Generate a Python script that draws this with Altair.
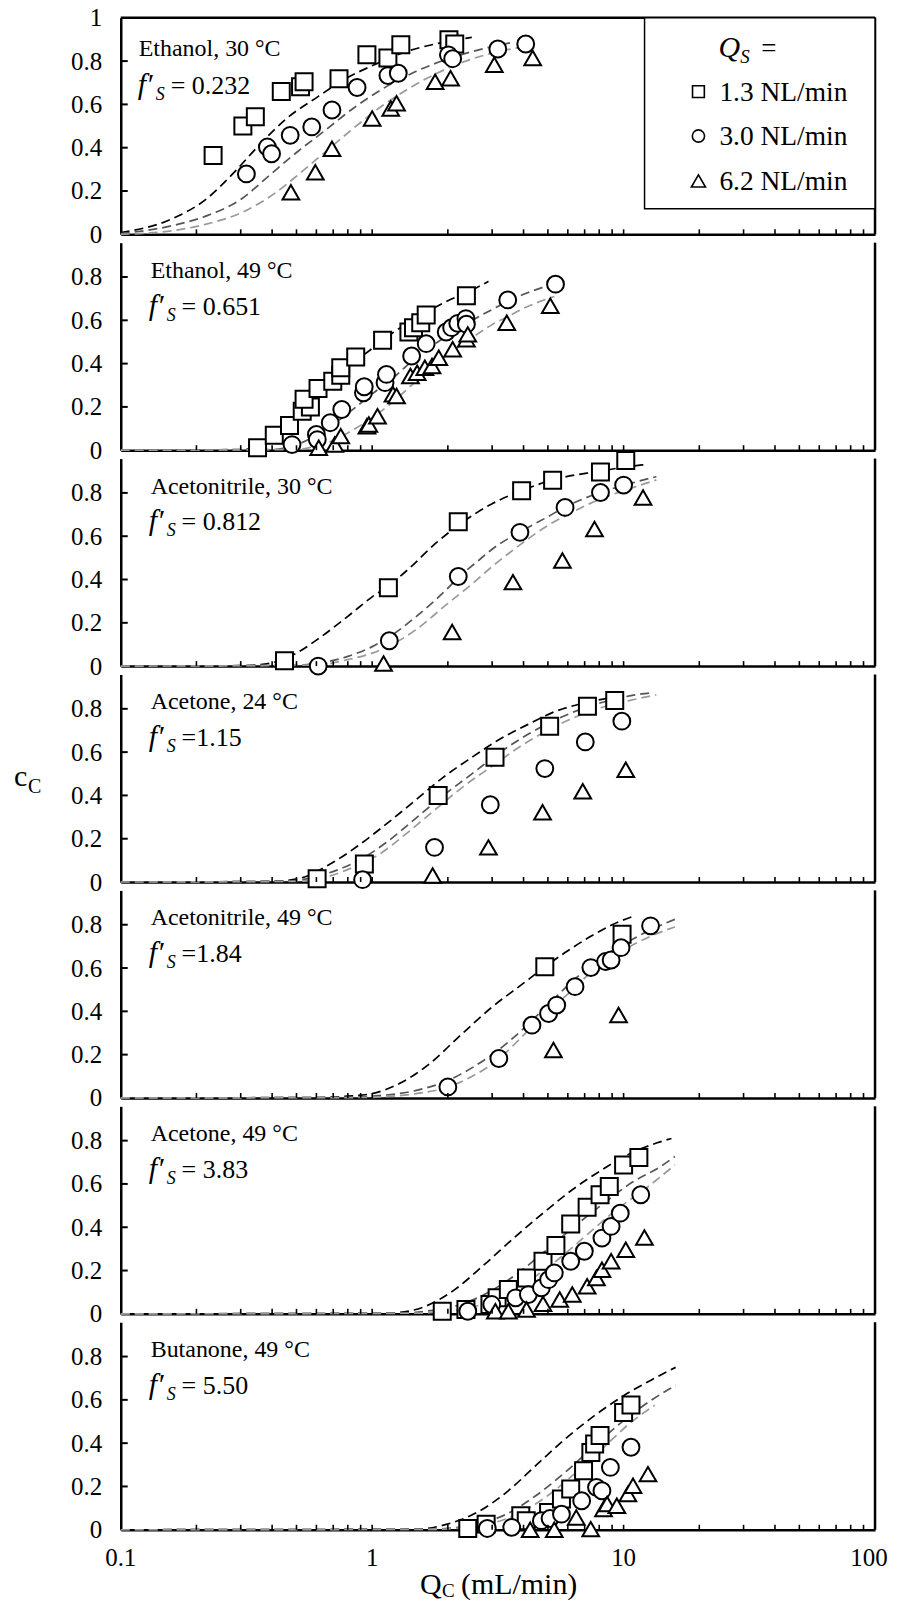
import altair as alt
import pandas as pd

# ---------------- text / tick data ----------------
SERIES = ["1.3 NL/min", "3.0 NL/min", "6.2 NL/min"]
PANEL_NAMES = ["Ethanol, 30 \u00b0C", "Ethanol, 49 \u00b0C", "Acetonitrile, 30 \u00b0C",
               "Acetone, 24 \u00b0C", "Acetonitrile, 49 \u00b0C", "Acetone, 49 \u00b0C",
               "Butanone, 49 \u00b0C"]
F_VALUES = ["= 0.232", "= 0.651", "= 0.812", "=1.15", "=1.84", "= 3.83", "= 5.50"]
X_LABELS = [0.1, 1, 10, 100]
X_MINOR = [0.2, 0.3, 0.4, 0.5, 0.6, 0.7, 0.8, 0.9, 1, 2, 3, 4, 5, 6, 7, 8, 9, 10,
           20, 30, 40, 50, 60, 70, 80, 90]
Y_TICKS = [0, 0.2, 0.4, 0.6, 0.8]
Y_TICKS_TOP = [0, 0.2, 0.4, 0.6, 0.8, 1]
Y_MINOR = [0.2, 0.4, 0.6, 0.8]

# ---------------- Panel 1: Ethanol 30 C ----------------
P1_SQ = [(0.233, 0.364), (0.306, 0.50), (0.343, 0.543), (0.435, 0.659), (0.519, 0.682),
         (0.536, 0.705), (0.738, 0.718), (0.953, 0.829), (1.155, 0.814), (1.30, 0.876),
         (2.02, 0.899), (2.13, 0.879)]
P1_CI = [(0.316, 0.279), (0.383, 0.403), (0.398, 0.372), (0.472, 0.457), (0.575, 0.496),
         (0.692, 0.574), (0.871, 0.678), (1.155, 0.733), (1.27, 0.744), (2.01, 0.829),
         (2.09, 0.811), (3.16, 0.856), (4.08, 0.879)]
P1_TR = [(0.475, 0.194), (0.594, 0.287), (0.692, 0.395), (1.0, 0.535), (1.185, 0.581),
         (1.25, 0.605), (1.78, 0.705), (2.05, 0.721), (3.06, 0.783), (4.35, 0.814)]
P1_K = [(0.1, 0.008), (0.159, 0.07), (0.219, 0.163), (0.283, 0.287), (0.354, 0.41),
        (0.457, 0.535), (0.609, 0.636), (0.787, 0.72), (1.02, 0.783), (1.31, 0.837),
        (1.8, 0.88), (2.49, 0.91)]
P1_D = [(0.1, 0.003), (0.159, 0.039), (0.219, 0.085), (0.302, 0.163), (0.389, 0.271),
        (0.503, 0.38), (0.65, 0.48), (0.839, 0.581), (1.083, 0.667), (1.49, 0.752),
        (2.05, 0.814), (2.83, 0.86), (3.65, 0.887)]
P1_L = [(0.1, 0.0), (0.159, 0.016), (0.219, 0.047), (0.302, 0.1), (0.415, 0.194),
        (0.503, 0.271), (0.65, 0.38), (0.839, 0.488), (1.083, 0.589), (1.4, 0.674),
        (1.81, 0.744), (2.33, 0.798), (3.01, 0.837), (3.89, 0.864)]

# ---------------- Panel 2: Ethanol 49 C ----------------
P2_SQ = [(0.35, 0.011), (0.408, 0.069), (0.469, 0.114), (0.527, 0.18), (0.568, 0.199),
         (0.536, 0.235), (0.609, 0.285), (0.697, 0.319), (0.75, 0.346), (0.75, 0.381),
         (0.86, 0.43), (1.10, 0.508), (1.40, 0.546), (1.46, 0.566), (1.56, 0.589),
         (1.64, 0.625), (2.37, 0.713)]
P2_CI = [(0.48, 0.026), (0.60, 0.073), (0.605, 0.049), (0.681, 0.127), (0.757, 0.188),
         (0.923, 0.265), (0.93, 0.293), (1.125, 0.312), (1.14, 0.35), (1.435, 0.435),
         (1.64, 0.492), (1.97, 0.546), (2.07, 0.566), (2.19, 0.586), (2.36, 0.608),
         (2.37, 0.582), (3.46, 0.694), (5.36, 0.767)]
P2_TR = [(0.613, 0.011), (0.71, 0.026), (0.75, 0.065), (0.953, 0.111), (0.97, 0.119),
         (1.05, 0.157), (1.21, 0.258), (1.25, 0.25), (1.42, 0.343), (1.51, 0.358),
         (1.62, 0.381), (1.73, 0.389), (1.84, 0.427), (2.09, 0.466), (2.37, 0.512),
         (2.4, 0.535), (3.43, 0.589), (5.11, 0.667)]
P2_K = [(0.1, 0.0), (0.3, 0.003), (0.35, 0.015), (0.4, 0.045), (0.45, 0.09), (0.5, 0.14),
        (0.6, 0.23), (0.7, 0.31), (0.8, 0.38), (1.0, 0.47), (1.2, 0.54), (1.5, 0.61),
        (2.0, 0.69), (2.5, 0.74), (2.9, 0.78)]
P2_D = [(0.1, 0.0), (0.4, 0.003), (0.5, 0.025), (0.6, 0.07), (0.7, 0.12), (0.8, 0.17),
        (1.0, 0.26), (1.2, 0.33), (1.5, 0.43), (2.0, 0.53), (2.5, 0.6), (3.0, 0.65),
        (3.5, 0.69), (4.0, 0.72), (5.0, 0.76), (5.3, 0.77)]
P2_L = [(0.1, 0.0), (0.5, 0.003), (0.6, 0.02), (0.7, 0.045), (0.8, 0.08), (1.0, 0.15),
        (1.2, 0.22), (1.5, 0.32), (2.0, 0.44), (2.5, 0.52), (3.0, 0.58), (3.5, 0.62),
        (4.0, 0.655), (5.0, 0.70), (5.3, 0.71)]

# ---------------- Panel 3: Acetonitrile 30 C ----------------
P3_SQ = [(0.448, 0.025), (1.16, 0.362), (2.2, 0.667), (3.93, 0.81), (5.22, 0.859),
         (8.09, 0.897), (10.2, 0.95)]
P3_CI = [(0.61, 0.0), (1.17, 0.117), (2.2, 0.414), (3.87, 0.618), (5.85, 0.733),
         (8.09, 0.802), (10.0, 0.836)]
P3_TR = [(1.11, 0.012), (2.08, 0.158), (3.63, 0.388), (5.71, 0.488), (7.66, 0.633),
         (11.95, 0.779)]
P3_K = [(0.1, 0.0), (0.3, 0.002), (0.4, 0.015), (0.5, 0.06), (0.6, 0.12), (0.8, 0.23),
        (1.0, 0.32), (1.16, 0.37), (1.4, 0.45), (1.8, 0.57), (2.2, 0.65), (3.0, 0.75),
        (3.93, 0.81), (5.22, 0.86), (8.0, 0.90), (11.0, 0.925), (12.0, 0.93)]
P3_D = [(0.1, 0.0), (0.5, 0.004), (0.6, 0.012), (0.8, 0.045), (1.0, 0.09), (1.17, 0.135),
        (1.5, 0.23), (2.0, 0.36), (2.2, 0.41), (2.6, 0.48), (3.0, 0.54), (3.87, 0.62),
        (5.0, 0.69), (5.85, 0.735), (8.0, 0.80), (10.0, 0.835), (13.5, 0.875)]
P3_L = [(0.1, 0.0), (0.6, 0.005), (0.8, 0.03), (1.0, 0.06), (1.2, 0.1), (1.5, 0.17),
        (2.0, 0.29), (2.5, 0.38), (3.0, 0.46), (3.87, 0.56), (5.0, 0.65), (6.0, 0.7),
        (8.0, 0.77), (10.0, 0.81), (13.5, 0.86)]

# ---------------- Panel 4: Acetone 24 C ----------------
P4_SQ = [(0.604, 0.015), (0.931, 0.083), (1.83, 0.4), (3.08, 0.576), (5.08, 0.72),
         (7.18, 0.812), (9.22, 0.838)]
P4_CI = [(0.916, 0.011), (1.77, 0.16), (2.95, 0.357), (4.86, 0.524), (7.04, 0.647),
         (9.84, 0.743)]
P4_TR = [(1.74, 0.03), (2.9, 0.16), (4.76, 0.322), (6.88, 0.419), (10.2, 0.519)]
P4_K = [(0.1, 0.0), (0.4, 0.003), (0.519, 0.018), (0.673, 0.08), (0.873, 0.165),
        (1.13, 0.265), (1.47, 0.373), (1.9, 0.48), (2.47, 0.573), (3.2, 0.658),
        (4.15, 0.727), (5.38, 0.789), (6.99, 0.827), (8.77, 0.85)]
P4_D = [(0.1, 0.0), (0.45, 0.003), (0.519, 0.01), (0.673, 0.042), (0.873, 0.096),
        (1.13, 0.18), (1.47, 0.288), (1.9, 0.396), (2.47, 0.496), (3.2, 0.596),
        (4.15, 0.681), (5.38, 0.75), (6.99, 0.804), (9.07, 0.843), (11.8, 0.869),
        (13.2, 0.875)]
P4_L = [(0.1, 0.0), (0.5, 0.003), (0.59, 0.01), (0.817, 0.062), (1.06, 0.126),
        (1.375, 0.226), (1.78, 0.334), (2.31, 0.442), (3.0, 0.535), (3.89, 0.627),
        (5.05, 0.704), (6.55, 0.766), (8.5, 0.812), (11.0, 0.843), (13.5, 0.865)]

# ---------------- Panel 5: Acetonitrile 49 C ----------------
P5_SQ = [(4.86, 0.606), (9.86, 0.756)]
P5_CI = [(2.0, 0.051), (3.19, 0.182), (4.32, 0.336), (5.03, 0.39), (5.42, 0.429),
         (6.41, 0.514), (7.41, 0.602), (8.48, 0.63), (8.92, 0.637), (9.77, 0.694),
         (12.8, 0.795)]
P5_TR = [(5.26, 0.221), (9.55, 0.383)]
P5_K = [(0.1, 0.0), (0.6, 0.002), (0.8, 0.008), (1.0, 0.02), (1.3, 0.07), (1.7, 0.16),
        (2.2, 0.28), (3.0, 0.42), (4.0, 0.53), (4.86, 0.605), (6.0, 0.68), (7.5, 0.75),
        (9.0, 0.80), (11.0, 0.84)]
P5_D = [(0.1, 0.0), (0.8, 0.002), (1.0, 0.008), (1.5, 0.035), (2.0, 0.08), (2.5, 0.14),
        (3.0, 0.2), (4.0, 0.32), (5.0, 0.43), (6.41, 0.55), (8.0, 0.64), (10.0, 0.71),
        (13.0, 0.78), (16.4, 0.83)]
P5_L = [(0.1, 0.0), (0.9, 0.002), (1.2, 0.008), (1.5, 0.02), (2.0, 0.05), (2.5, 0.1),
        (3.19, 0.18), (4.0, 0.29), (5.0, 0.4), (6.41, 0.51), (7.41, 0.58), (9.0, 0.65),
        (11.0, 0.71), (13.0, 0.75), (16.0, 0.79)]

# ---------------- Panel 6: Acetone 49 C ----------------
P6_SQ = [(1.9, 0.012), (2.36, 0.02), (2.94, 0.043), (3.14, 0.074), (3.48, 0.112),
         (4.11, 0.166), (4.78, 0.243), (5.38, 0.316), (6.16, 0.415), (7.16, 0.492),
         (8.06, 0.55), (8.77, 0.588), (10.0, 0.688), (11.5, 0.722)]
P6_CI = [(2.4, 0.012), (2.99, 0.043), (3.72, 0.074), (4.18, 0.089), (4.71, 0.12),
         (5.03, 0.158), (5.3, 0.189), (6.16, 0.243), (6.98, 0.289), (8.2, 0.35),
         (8.92, 0.404), (9.7, 0.465), (11.7, 0.55)]
P6_TR = [(3.09, 0.012), (3.48, 0.012), (4.11, 0.02), (4.78, 0.046), (5.57, 0.066),
         (6.25, 0.089), (7.16, 0.127), (7.8, 0.166), (8.2, 0.204), (8.92, 0.243),
         (10.2, 0.296), (12.1, 0.353)]
P6_K = [(0.1, 0.0), (1.0, 0.002), (1.24, 0.005), (1.63, 0.035), (2.13, 0.112),
        (2.79, 0.227), (3.66, 0.35), (4.78, 0.465), (6.25, 0.573), (8.2, 0.665),
        (10.7, 0.742), (13.6, 0.79), (15.5, 0.81)]
P6_D = [(0.1, 0.0), (1.3, 0.003), (1.63, 0.012), (2.13, 0.035), (2.79, 0.089),
        (3.66, 0.174), (4.78, 0.281), (6.25, 0.396), (8.2, 0.504), (10.7, 0.604),
        (14.0, 0.68), (16.0, 0.727)]
P6_L = [(0.1, 0.0), (1.5, 0.003), (1.86, 0.009), (2.44, 0.028), (3.19, 0.074),
        (4.18, 0.151), (5.47, 0.25), (7.16, 0.366), (9.37, 0.481), (12.3, 0.581),
        (16.0, 0.688)]

# ---------------- Panel 7: Butanone 49 C ----------------
P7_SQ = [(2.4, 0.006), (2.84, 0.026), (3.9, 0.065), (4.1, 0.042), (5.03, 0.08),
         (5.66, 0.142), (6.16, 0.188), (6.93, 0.273), (7.41, 0.357), (7.67, 0.396),
         (8.06, 0.435), (10.0, 0.542), (10.7, 0.576)]
P7_CI = [(2.87, 0.006), (3.59, 0.011), (4.71, 0.042), (5.1, 0.052), (5.66, 0.072),
         (6.81, 0.134), (7.8, 0.196), (8.2, 0.18), (8.86, 0.288), (10.7, 0.381)]
P7_TR = [(4.25, 0.0), (5.3, 0.0), (6.48, 0.057), (7.4, 0.003), (8.32, 0.096),
         (8.6, 0.119), (9.4, 0.111), (10.4, 0.165), (10.9, 0.203), (12.5, 0.257)]
P7_K = [(0.1, 0.0), (1.2, 0.002), (1.52, 0.003), (1.99, 0.026), (2.61, 0.08),
        (3.42, 0.173), (4.47, 0.296), (5.85, 0.419), (7.66, 0.527), (10.0, 0.619),
        (13.1, 0.696), (16.1, 0.75)]
P7_D = [(0.1, 0.0), (1.6, 0.002), (1.99, 0.006), (2.61, 0.026), (3.42, 0.072),
        (4.47, 0.157), (5.85, 0.265), (7.66, 0.388), (10.0, 0.504), (13.1, 0.604),
        (16.1, 0.666)]
P7_L = [(0.1, 0.0), (1.8, 0.002), (2.13, 0.006), (2.79, 0.022), (3.66, 0.065),
        (4.78, 0.142), (6.25, 0.25), (8.2, 0.373), (10.7, 0.496), (13.3, 0.575)]

PANEL_DATA = [
    (P1_SQ, P1_CI, P1_TR, P1_K, P1_D, P1_L),
    (P2_SQ, P2_CI, P2_TR, P2_K, P2_D, P2_L),
    (P3_SQ, P3_CI, P3_TR, P3_K, P3_D, P3_L),
    (P4_SQ, P4_CI, P4_TR, P4_K, P4_D, P4_L),
    (P5_SQ, P5_CI, P5_TR, P5_K, P5_D, P5_L),
    (P6_SQ, P6_CI, P6_TR, P6_K, P6_D, P6_L),
    (P7_SQ, P7_CI, P7_TR, P7_K, P7_D, P7_L),
]

# ---------------- styling ----------------
FONT = "Liberation Serif"
W, H1, H = 756, 217, 208
CURVE_COLORS = ["#000000", "#555555", "#9a9a9a"]
SHAPES = ["square", "circle", "triangle-up"]
SIZES = [290, 280, 380]
TICK_FS = 25


def frame(groups):
    rows = []
    for s, arr in zip(SERIES, groups):
        for q, c in arr:
            rows.append({"q": q, "c": c, "s": s})
    return pd.DataFrame(rows)


def txt(text, x, y, size, italic=False, align="left"):
    return alt.Chart(pd.DataFrame({"t": [text]})).mark_text(
        font=FONT, fontSize=size, fontStyle="italic" if italic else "normal",
        align=align, baseline="alphabetic", color="black"
    ).encode(x=alt.value(x), y=alt.value(y), text="t:N")


def panel(i):
    sq, ci, tr, k, d, l = PANEL_DATA[i]
    first, last = i == 0, i == 6
    h = H1 if first else H
    ytop = 1.0 if first else H / H1
    xs = alt.Scale(type="log", domain=[0.1, 100], nice=False)
    ys = alt.Scale(domain=[0, ytop], nice=False, zero=False)
    xaxis = alt.Axis(values=X_LABELS, labels=False, ticks=False, tickSize=0,
                     grid=False, domainColor="black", domainWidth=2.5, title=None)
    yaxis = alt.Axis(values=Y_TICKS_TOP if first else Y_TICKS, format="~g",
                     labelFont=FONT, labelFontSize=TICK_FS, labelColor="black",
                     labelPadding=19, labelOverlap=False, ticks=False, tickSize=0,
                     grid=False, domainColor="black", domainWidth=2.5, title=None)

    def X(f):
        return alt.X(f, scale=xs, axis=xaxis)

    def Y(f):
        return alt.Y(f, scale=ys, axis=yaxis)

    curves = alt.Chart(frame((k, d, l))).mark_line(
        strokeDash=[9, 5], strokeWidth=1.7, interpolate="monotone"
    ).encode(
        x=X("q:Q"), y=Y("c:Q"),
        color=alt.Color("s:N", scale=alt.Scale(domain=SERIES, range=CURVE_COLORS), legend=None),
        detail="s:N",
    )
    points = alt.Chart(frame((sq, ci, tr))).mark_point(
        filled=True, fill="white", stroke="black", strokeWidth=2, opacity=1
    ).encode(
        x=X("q:Q"), y=Y("c:Q"),
        shape=alt.Shape("s:N", scale=alt.Scale(domain=SERIES, range=SHAPES), legend=None),
        size=alt.Size("s:N", scale=alt.Scale(domain=SERIES, range=SIZES), legend=None),
    )
    xt = alt.Chart(pd.DataFrame({"v": X_MINOR})).mark_rule(
        color="black", strokeWidth=1.6
    ).encode(x=X("v:Q"), y=alt.value(h), y2=alt.value(h - 5))
    yt = alt.Chart(pd.DataFrame({"v": Y_MINOR})).mark_rule(
        color="black", strokeWidth=2
    ).encode(y=Y("v:Q"), x=alt.value(0), x2=alt.value(7))
    right = alt.Chart(pd.DataFrame({"v": [0]})).mark_rule(
        color="black", strokeWidth=2.5
    ).encode(x=alt.value(W), y=alt.value(0), y2=alt.value(h))

    layers = [curves, points, xt, yt, right]

    if first:
        lx, lb, fx, fb = 18, 38, 17, 76
    else:
        lx, lb, fx, fb = 30, 35, 28, 72
    layers += [
        txt(PANEL_NAMES[i], lx, lb, 24),
        txt("f\u2032", fx, fb, 30, italic=True),
        txt("S", fx + 18, fb + 6, 18, italic=True),
        txt(F_VALUES[i], fx + 33, fb, 26),
    ]

    if first:
        top = alt.Chart(pd.DataFrame({"v": [0]})).mark_rule(
            color="black", strokeWidth=2.5
        ).encode(x=alt.value(0), x2=alt.value(W), y=alt.value(0))
        box = alt.Chart(pd.DataFrame({"v": [0]})).mark_rect(
            fill="white", stroke="black", strokeWidth=1.5
        ).encode(x=alt.value(525), x2=alt.value(W), y=alt.value(0), y2=alt.value(191.5))
        layers += [top, box,
                   txt("Q", 599, 39, 30, italic=True),
                   txt("S", 621, 45, 19, italic=True),
                   txt("=", 642, 39, 27)]
        row_y = [74, 118.5, 163.5]
        leg_sizes = [140, 150, 200]
        for j, s in enumerate(SERIES):
            sym = alt.Chart(pd.DataFrame({"s": [s]})).mark_point(
                shape=SHAPES[j], size=leg_sizes[j], filled=True, fill="white",
                stroke="black", strokeWidth=1.6, opacity=1
            ).encode(x=alt.value(579), y=alt.value(row_y[j]))
            layers += [sym, txt(s, 600, row_y[j] + 9, 27.5)]

    if i == 3:
        layers += [txt("c", -107, 111.4, 30), txt("C", -93, 118.4, 20)]

    if last:
        # x tick labels, placed through the x scale
        xl = alt.Chart(pd.DataFrame({"v": X_LABELS[:-1]})).mark_text(
            font=FONT, fontSize=TICK_FS, align="center", baseline="middle", color="black"
        ).encode(x=X("v:Q"), y=alt.value(h + 28), text=alt.Text("v:Q", format="~g"))
        xl_end = alt.Chart(pd.DataFrame({"v": X_LABELS[-1:]})).mark_text(
            font=FONT, fontSize=TICK_FS, align="center", baseline="middle", color="black",
            dx=-6
        ).encode(x=X("v:Q"), y=alt.value(h + 28), text=alt.Text("v:Q", format="~g"))
        layers += [xl, xl_end,
                   txt("Q", 300, 272, 30), txt("C", 322, 275, 19),
                   txt("(mL/min)", 341, 272, 30)]

    return alt.layer(*layers).properties(width=W, height=h)


chart = alt.vconcat(*[panel(i) for i in range(7)], spacing=8.4, bounds="flush").properties(
    padding={"left": 5, "top": -5, "right": 0, "bottom": 0}
).configure_view(stroke="transparent")

chart.save("out.html", embed_options={"renderer": "svg", "actions": False})
